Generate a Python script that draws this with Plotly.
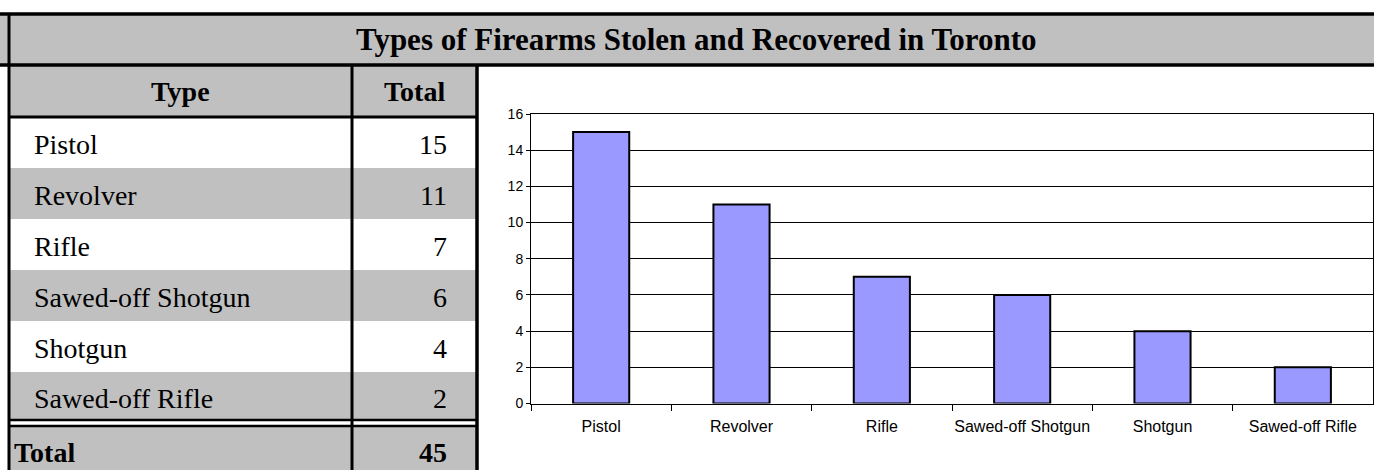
import plotly.graph_objects as go

# ---- data ----
title_text = "Types of Firearms Stolen and Recovered in Toronto"
header_labels = ["Type", "Total"]
categories = ["Pistol", "Revolver", "Rifle", "Sawed-off Shotgun", "Shotgun", "Sawed-off Rifle"]
counts = [15, 11, 7, 6, 4, 2]
total_label = "Total"
y_ticks = [0, 2, 4, 6, 8, 10, 12, 14, 16]

W, H = 1374, 470
def X(px): return px / W
def Y(py): return 1 - py / H

GREY = "#C0C0C0"
BAR = "#9999FF"
SERIF = "Liberation Serif, Times New Roman, serif"
SANS = "Liberation Sans, Arial, sans-serif"

# table geometry (pixels)
tbl_left, col_div, tbl_right = 9, 352, 477
title_top, title_bot = 14, 65
header_bot = 117
row_h = 51
dbl1, dbl2 = 420, 425
total_top = 427

shapes = []
ann = []

def rect(x0, y0, x1, y1, fill):
    shapes.append(dict(type="rect", xref="paper", yref="paper", x0=X(x0), x1=X(x1), y0=Y(y1), y1=Y(y0),
                       fillcolor=fill, line=dict(width=0), layer="below"))

def line(x0, y0, x1, y1, w=3):
    shapes.append(dict(type="line", xref="paper", yref="paper", x0=X(x0), x1=X(x1), y0=Y(y0), y1=Y(y1),
                       line=dict(color="black", width=w), layer="above"))

# title band
rect(0, title_top, W, title_bot, GREY)
# header row
rect(tbl_left, title_bot, tbl_right, header_bot, GREY)
# data rows
row_tops = []
for i, cat in enumerate(categories):
    top = header_bot + i * row_h
    bot = min(top + row_h, dbl1)
    row_tops.append((top, bot))
    rect(tbl_left, top, tbl_right, bot, GREY if i % 2 == 1 else "white")
# total row
rect(tbl_left, total_top, tbl_right, H, GREY)

# lines
line(0, title_top, W, title_top, 3.5)
line(0, title_bot, W, title_bot, 3.5)
line(tbl_left, title_top, tbl_left, H, 3)
line(col_div, title_bot, col_div, H, 3)
line(tbl_right, title_bot, tbl_right, H, 3.5)
line(tbl_left, header_bot, tbl_right, header_bot, 3)
line(tbl_left, dbl1, tbl_right, dbl1, 2.5)
line(tbl_left, dbl2 + 1, tbl_right, dbl2 + 1, 2.5)

# texts
ann.append(dict(text="<b>" + title_text + "</b>", x=X(W / 2 + 9), y=Y((title_top + title_bot) / 2),
                xref="paper", yref="paper", showarrow=False, xanchor="center", yanchor="middle",
                font=dict(family=SERIF, size=31, color="black")))
ann.append(dict(text="<b>" + header_labels[0] + "</b>", x=X((tbl_left + col_div) / 2), y=Y((title_bot + header_bot) / 2),
                xref="paper", yref="paper", showarrow=False, xanchor="center", yanchor="middle",
                font=dict(family=SERIF, size=28, color="black")))
ann.append(dict(text="<b>" + header_labels[1] + "</b>", x=X((col_div + tbl_right) / 2), y=Y((title_bot + header_bot) / 2),
                xref="paper", yref="paper", showarrow=False, xanchor="center", yanchor="middle",
                font=dict(family=SERIF, size=28, color="black")))
for (top, bot), cat, v in zip(row_tops, categories, counts):
    yc = Y((top + bot) / 2 + 2)
    ann.append(dict(text=cat, x=X(32), y=yc, xref="paper", yref="paper", showarrow=False,
                    xanchor="left", yanchor="middle", font=dict(family=SERIF, size=28, color="black")))
    ann.append(dict(text=str(v), x=X(449), y=yc, xref="paper", yref="paper", showarrow=False,
                    xanchor="right", yanchor="middle", font=dict(family=SERIF, size=28, color="black")))
yc = Y((total_top + H) / 2 + 4)
ann.append(dict(text="<b>" + total_label + "</b>", x=X(12), y=yc, xref="paper", yref="paper", showarrow=False,
                xanchor="left", yanchor="middle", font=dict(family=SERIF, size=28, color="black")))
ann.append(dict(text="<b>" + str(sum(counts)) + "</b>", x=X(449), y=yc, xref="paper", yref="paper", showarrow=False,
                xanchor="right", yanchor="middle", font=dict(family=SERIF, size=28, color="black")))

fig = go.Figure(go.Bar(x=categories, y=counts, marker=dict(color=BAR, line=dict(color="black", width=2)),
                       width=0.4, hoverinfo="x+y"))

fig.update_layout(
    autosize=True,
    margin=dict(l=0, r=0, t=0, b=0, pad=0),
    paper_bgcolor="white", plot_bgcolor="white",
    shapes=shapes, annotations=ann, showlegend=False,
    xaxis=dict(domain=[X(531), X(1373)], type="category", tickson="boundaries", ticks="outside",
               ticklen=6, tickcolor="black", showline=True, linecolor="black", linewidth=1,
               mirror=True, showgrid=False, tickangle=0, ticklabelstandoff=8,
               tickfont=dict(family=SANS, size=16, color="black"),
               fixedrange=True, automargin=False),
    yaxis=dict(domain=[Y(403.5), Y(114)], range=[0, 16], tickvals=y_ticks, ticks="outside",
               ticklen=4, tickcolor="black", showline=True, linecolor="black", linewidth=1, mirror=True,
               showgrid=True, gridcolor="black", gridwidth=1, zeroline=False,
               tickfont=dict(family=SANS, size=14, color="black"), fixedrange=True, automargin=False),
)

post = ("document.documentElement.style.margin='0';document.documentElement.style.padding='0';"
        "document.body.style.margin='0';document.body.style.padding='0';"
        "document.body.style.overflow='hidden';"
        "var gd=document.getElementById('{plot_id}');gd.style.width='100vw';gd.style.height='100vh';"
        "Plotly.Plots.resize(gd);")
fig.write_html("out.html", post_script=post, default_width="100vw", default_height="100vh",
               config={"displayModeBar": False, "responsive": True})
